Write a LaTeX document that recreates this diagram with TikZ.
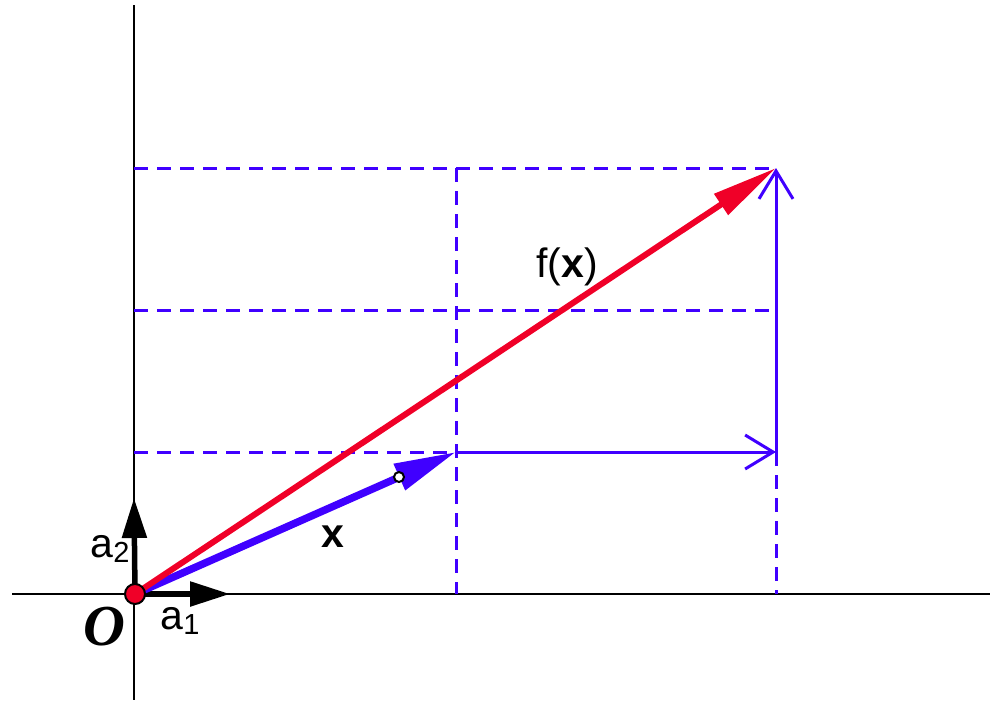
\documentclass[tikz,border=0pt]{standalone}
\usepackage{fontspec}
\setmainfont{Liberation Sans}
\newfontfamily\serifO{Liberation Serif}
\usetikzlibrary{arrows.meta}
\definecolor{vblue}{RGB}{64,0,255}
\definecolor{vred}{RGB}{240,0,40}
\begin{document}
\begin{tikzpicture}[x=1pt,y=-1pt,
  axis/.style={line width=2.6pt,black},
  guide/.style={line width=3pt,vblue,dash pattern=on 14pt off 9pt},
  comp/.style={line width=3pt,vblue,-{Straight Barb[length=28pt,width=34pt,line width=3pt]}},
  basis/.style={line width=5.5pt,black,-{Triangle[length=40pt,width=24pt]}},
  lab/.style={font=\fontsize{41}{44}\selectfont,inner sep=0pt}]
\useasboundingbox (0,0) rectangle (994,723);
\coordinate (O) at (135,594);
\coordinate (xl) at (12,594);
\coordinate (xr) at (990,594);
\coordinate (yt) at (134,5);
\coordinate (yb) at (134,700);
\coordinate (X) at (456,452);
\coordinate (F) at (776,168);
\coordinate (Fx) at (776,452);
\coordinate (Fm) at (776,310);
\coordinate (A1) at (230,594);
\coordinate (A2) at (134,498);
\coordinate (Y1) at (134,452);
\coordinate (Y2) at (134,310);
\coordinate (Y3) at (134,168);
\coordinate (Xt) at (456,168);
\coordinate (Xb) at (456,594);
\coordinate (Fb) at (776,594);
% axes
\draw[axis] (xl) -- (xr);
\draw[axis] (yt) -- (yb);
% dashed guides
\draw[guide] (Y3) -- (F);
\draw[guide] (Y2) -- (Fm);
\draw[guide] (Y1) -- (X);
\draw[guide] (Xt) -- (Xb);
\draw[guide] (Fx) -- (Fb);
% components
\draw[comp] (X) -- (Fx);
\draw[comp] (Fx) -- (F);
% basis vectors
\draw[basis] (O) -- (A1);
\draw[basis] (O) -- (A2);
% vectors
\draw[line width=7.5pt,vblue,-{Triangle[length=62pt,width=27pt]}] (O) -- (X);
\draw[line width=6pt,vred,-{Triangle[length=66pt,width=24pt]}] (O) -- (F);
\node[circle,draw=black,fill=white,line width=2pt,minimum size=10pt,inner sep=0pt] (pt) at (399,477) {};
\node[circle,draw=black,fill=vred,line width=2pt,minimum size=20pt,inner sep=0pt] (Od) at (O) {};
% labels
\node[lab] (la2) at (110,549) {a\raisebox{-0.25ex}{\fontsize{29}{30}\selectfont 2}};
\node[lab] (la1) at (180,621) {a\raisebox{-0.25ex}{\fontsize{29}{30}\selectfont 1}};
\node[lab] (lO) at (104,627) {\serifO\fontsize{58}{60}\selectfont\bfseries\itshape O};
\node[lab] (lx) at (333,537) {\bfseries x};
\node[lab] (lf) at (567,267) {f(\textbf{x})};
\end{tikzpicture}
\end{document}
